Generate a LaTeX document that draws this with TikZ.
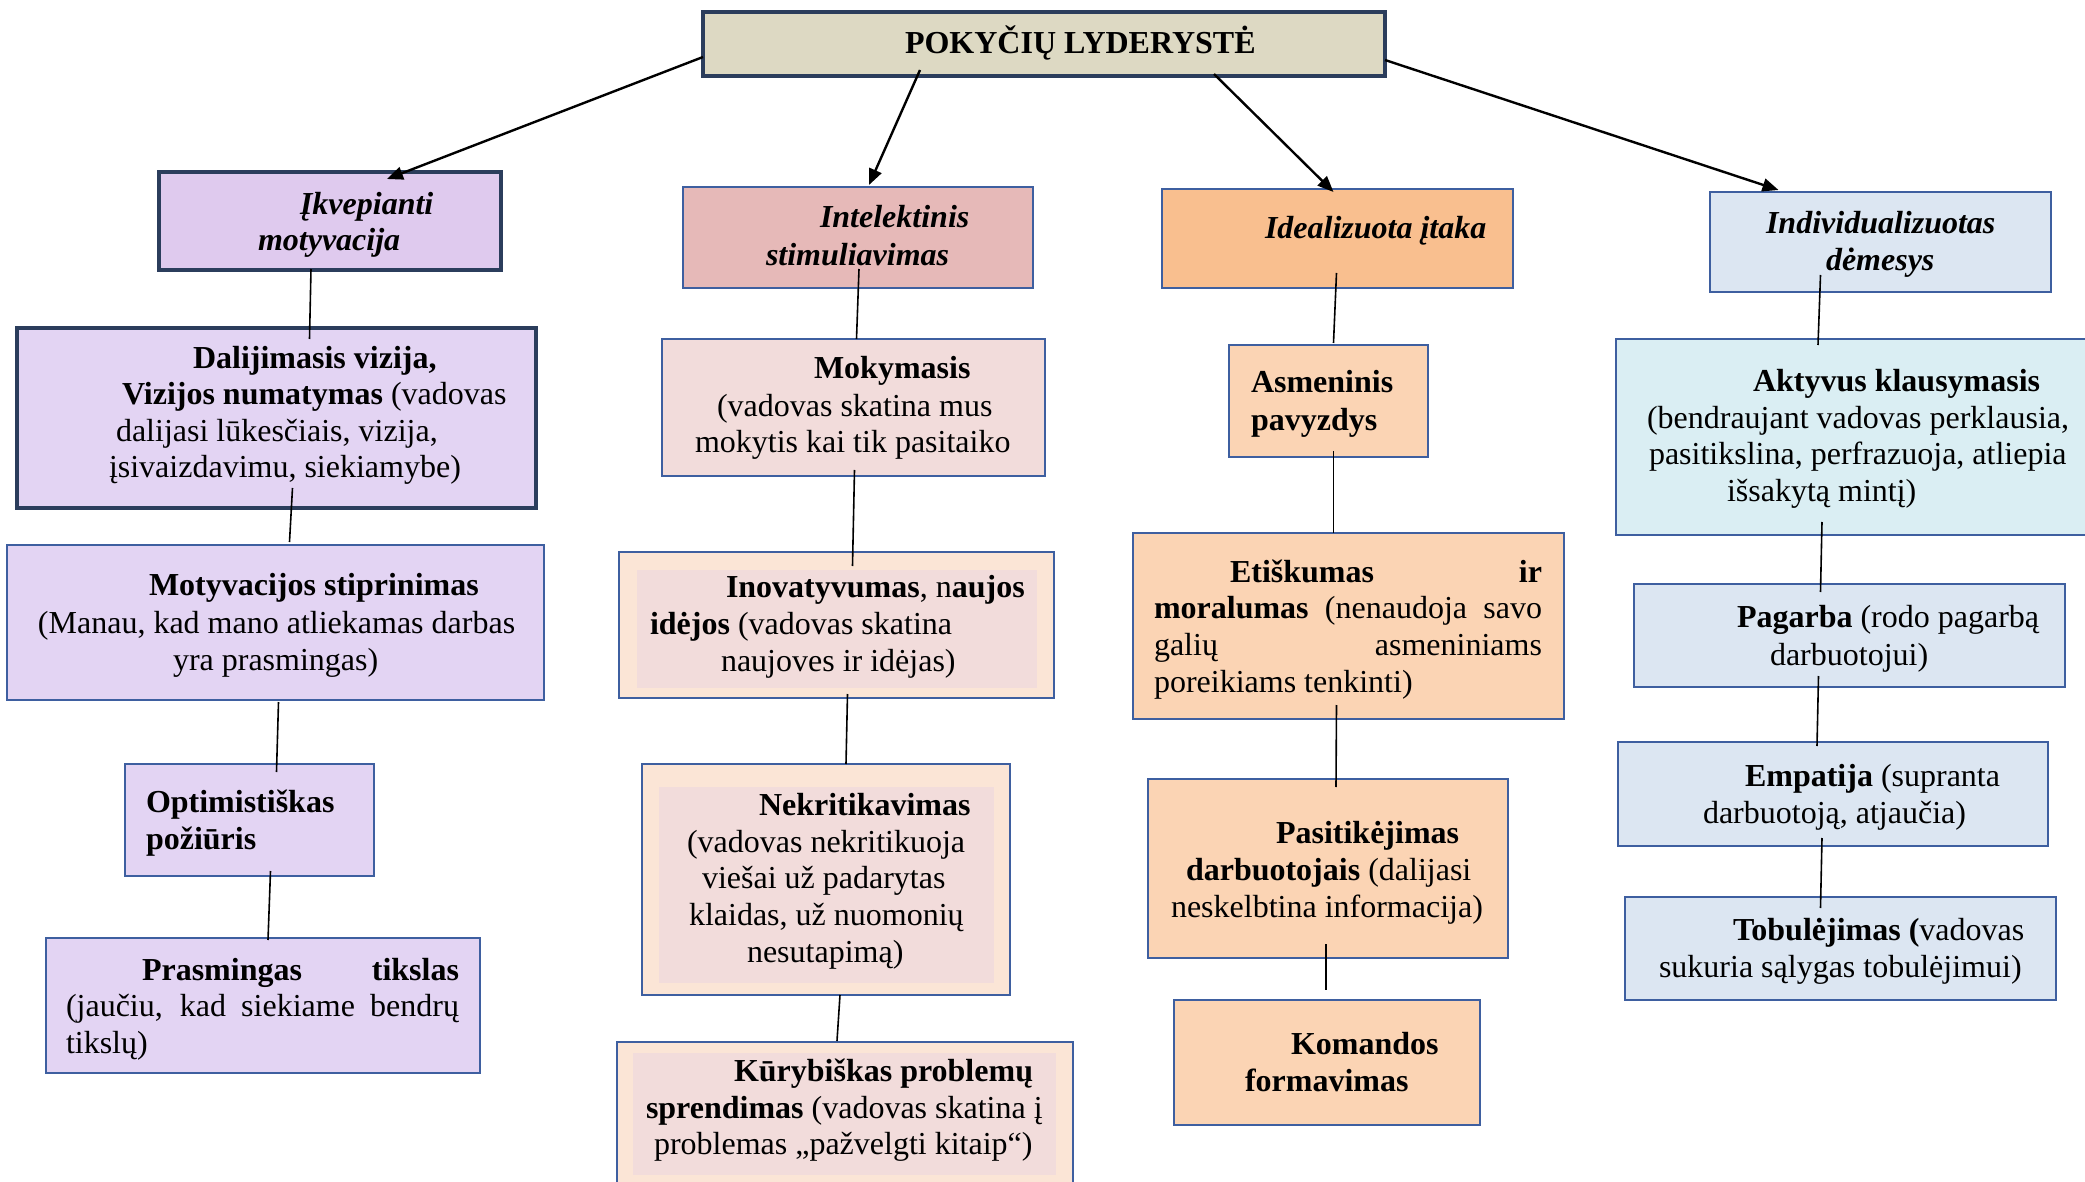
\documentclass[tikz,border=0pt]{standalone}
\usepackage{fontspec}
\setmainfont{Liberation Serif}
\usetikzlibrary{arrows.meta,calc}
\definecolor{topfill}{HTML}{DDD9C3}
\definecolor{ikvfill}{HTML}{DFCAEE}
\definecolor{lavfill}{HTML}{E3D4F3}
\definecolor{intfill}{HTML}{E6B9B8}
\definecolor{pinkfill}{HTML}{F2DCDB}
\definecolor{peachfill}{HTML}{FBE5D6}
\definecolor{idefill}{HTML}{F9BF8F}
\definecolor{orfill}{HTML}{FBD4B4}
\definecolor{bluefill}{HTML}{DCE6F2}
\definecolor{aktfill}{HTML}{DAEEF3}
\definecolor{thickcol}{HTML}{2B3D5C}
\definecolor{thincol}{HTML}{3E5FA0}
\newcommand\mybox[6]{%
  \pgfmathsetmacro\bw{(#5-#3)/2}\pgfmathsetmacro\bh{(#6-#4)/2}%
  \node[#2, minimum width=\bw pt, minimum height=\bh pt] (#1) at ({(#3+#5)/2},{(#4+#6)/2}) {};}
\newcommand\tx[4]{\node[txt] (#1) at (#2,#3) {#4};}
\begin{document}
\begin{tikzpicture}[x=0.5pt,y=-0.5pt,
  thickbox/.style={draw=thickcol, line width=2.2pt, inner sep=0pt, outer sep=0pt},
  thinbox/.style={draw=thincol, line width=1.1pt, inner sep=0pt, outer sep=0pt},
  innerbox/.style={draw=none, inner sep=0pt, outer sep=0pt},
  txt/.style={anchor=base west, inner sep=0pt, outer sep=0pt, font=\fontsize{16}{18.4}\selectfont},
  arr/.style={line width=1.2pt, -{Triangle[length=8pt,width=6.5pt]}},
  conn/.style={line width=0.8pt}]
\useasboundingbox (0,0) rectangle (2085,1182);
\fill[white] (0,0) rectangle (2085,1182);
% boxes
\mybox{top}{thickbox, fill=topfill}{703}{12}{1385}{76}
\mybox{ikv}{thickbox, fill=ikvfill}{159}{172}{501}{270}
\mybox{int}{thinbox, fill=intfill}{683}{187}{1033}{288}
\mybox{ide}{thinbox, fill=idefill}{1162}{189}{1513}{288}
\mybox{ind}{thinbox, fill=bluefill}{1710}{192}{2051}{292}
\mybox{dal}{thickbox, fill=lavfill}{17}{328}{536}{508}
\mybox{mot}{thinbox, fill=lavfill}{7}{545}{544}{700}
\mybox{opt}{thinbox, fill=lavfill}{125}{764}{374}{876}
\mybox{pras}{thinbox, fill=lavfill}{46}{938}{480}{1073}
\mybox{mok}{thinbox, fill=pinkfill}{662}{339}{1045}{476}
\mybox{ino}{thinbox, fill=peachfill}{619}{552}{1054}{698}
\mybox{inoin}{innerbox, fill=pinkfill}{637}{570}{1037}{688}
\mybox{nek}{thinbox, fill=peachfill}{642}{764}{1010}{995}
\mybox{nekin}{innerbox, fill=pinkfill}{659}{787}{994}{983}
\mybox{kur}{thinbox, fill=peachfill}{617}{1042}{1073}{1200}
\mybox{kurin}{innerbox, fill=pinkfill}{633}{1053}{1056}{1175}
\mybox{asm}{thinbox, fill=orfill}{1229}{345}{1428}{457}
\mybox{eti}{thinbox, fill=orfill}{1133}{533}{1564}{719}
\mybox{pas}{thinbox, fill=orfill}{1148}{779}{1508}{958}
\mybox{kom}{thinbox, fill=orfill}{1174}{1000}{1480}{1125}
\mybox{akt}{thinbox, fill=aktfill}{1616}{339}{2100}{535}
\mybox{pag}{thinbox, fill=bluefill}{1634}{584}{2065}{687}
\mybox{emp}{thinbox, fill=bluefill}{1618}{742}{2048}{846}
\mybox{tob}{thinbox, fill=bluefill}{1625}{897}{2056}{1000}
% arrows
\draw[arr] ($(top.west)+(0,13)$) -- ($(ikv.north)+(57,7)$);
\draw[arr] ($(top.south)+(-124,-6)$) -- ($(int.north)+(11,-2)$);
\draw[arr] ($(top.south)+(170,-2)$) -- ($(ide.north)+(-4,3)$);
\draw[arr] ($(top.east)+(0,16)$) -- ($(ind.north)+(-102,-2)$);
% connectors
\draw[conn] ($(ikv.south)+(-19,-1)$) -- ($(dal.north)+(33,11)$);
\draw[conn] ($(dal.south)+(16,-20)$) -- ($(mot.north)+(14,-3)$);
\draw[conn] ($(mot.south)+(3,2)$) -- ($(opt.north)+(27,8)$);
\draw[conn] ($(opt.south)+(21,-5)$) -- ($(pras.north)+(5,2)$);
\draw[conn] ($(int.south)+(1,-19)$) -- ($(mok.north)+(3,0)$);
\draw[conn] ($(mok.south)+(1,-6)$) -- ($(ino.north)+(16,14)$);
\draw[conn] ($(ino.south)+(11,-4)$) -- ($(nek.north)+(20,0)$);
\draw[conn] ($(nek.south)+(14,0)$) -- ($(kur.north)+(-8,-1)$);
\draw[conn] ($(ide.south)+(-1,-15)$) -- ($(asm.north)+(5,-2)$);
\draw[conn] ($(asm.south)+(5,-6)$) -- ($(eti.north)+(-15,0)$);
\draw[conn] ($(eti.south)+(-12,-14)$) -- ($(pas.north)+(8,8)$);
\draw[conn] ($(pas.south)+(-2,-14)$) -- ($(kom.north)+(-1,-10)$);
\draw[conn] ($(ind.south)+(-60,-17)$) -- ($(akt.north)+(-40,6)$);
\draw[conn] ($(akt.south)+(-36,-13)$) -- ($(pag.north)+(-29,8)$);
\draw[conn] ($(pag.south)+(-31,-11)$) -- ($(emp.north)+(-16,4)$);
\draw[conn] ($(emp.south)+(-11,-8)$) -- ($(tob.north)+(-20,11)$);
% texts
\tx{t1}{905}{54}{\textbf{POKYČIŲ LYDERYSTĖ}}
\tx{ikv1}{300}{215}{\textbf{\textit{Įkvepianti}}}
\tx{ikv2}{258}{251}{\textbf{\textit{motyvacija}}}
\tx{int1}{820}{228}{\textbf{\textit{Intelektinis}}}
\tx{int2}{766}{266}{\textbf{\textit{stimuliavimas}}}
\tx{ide1}{1265}{239}{\textbf{\textit{Idealizuota įtaka}}}
\tx{ind1}{1766}{234}{\textbf{\textit{Individualizuotas}}}
\tx{ind2}{1826}{271}{\textbf{\textit{dėmesys}}}
\tx{dal1}{193}{369}{\textbf{Dalijimasis vizija,}}
\tx{dal2}{122}{405}{\textbf{Vizijos numatymas} (vadovas}
\tx{dal3}{116}{442}{dalijasi lūkesčiais, vizija,}
\tx{dal4}{109}{478}{įsivaizdavimu, siekiamybe)}
\tx{mot1}{149}{595}{\textbf{Motyvacijos stiprinimas}}
\tx{mot2}{38}{633}{(Manau, kad mano atliekamas darbas}
\tx{mot3}{173}{670}{yra prasmingas)}
\tx{opt1}{146}{812}{\textbf{Optimistiškas}}
\tx{opt2}{146}{849}{\textbf{požiūris}}
\tx{pras1}{142}{980}{\makebox[158.5pt][s]{\bfseries Prasmingas tikslas}}
\tx{pras2}{66}{1016}{\makebox[196.5pt][s]{(jaučiu, kad siekiame bendrų}}
\tx{pras3}{66}{1053}{tikslų)}
\tx{mok1}{814}{379}{\textbf{Mokymasis}}
\tx{mok2}{717}{416}{(vadovas skatina mus}
\tx{mok3}{695}{452}{mokytis kai tik pasitaiko}
\tx{ino1}{726}{597}{\textbf{Inovatyvumas}, n\textbf{aujos}}
\tx{ino2}{650}{634}{\textbf{idėjos} (vadovas skatina}
\tx{ino3}{721}{671}{naujoves ir idėjas)}
\tx{nek1}{759}{815}{\textbf{Nekritikavimas}}
\tx{nek2}{687}{852}{(vadovas nekritikuoja}
\tx{nek3}{702}{888}{viešai už padarytas}
\tx{nek4}{689}{925}{klaidas, už nuomonių}
\tx{nek5}{747}{962}{nesutapimą)}
\tx{kur1}{734}{1081}{\textbf{Kūrybiškas problemų}}
\tx{kur2}{646}{1118}{\textbf{sprendimas} (vadovas skatina į}
\tx{kur3}{654}{1154}{problemas „pažvelgti kitaip“)}
\tx{asm1}{1251}{393}{\textbf{Asmeninis}}
\tx{asm2}{1251}{430}{\textbf{pavyzdys}}
\tx{eti1}{1230}{582}{\makebox[156pt][s]{\bfseries Etiškumas ir}}
\tx{eti2}{1154}{618}{\makebox[194pt][s]{\textbf{moralumas} (nenaudoja savo}}
\tx{eti3}{1154}{655}{\makebox[194pt][s]{galių asmeniniams}}
\tx{eti4}{1154}{692}{poreikiams tenkinti)}
\tx{pas1}{1276}{843}{\textbf{Pasitikėjimas}}
\tx{pas2}{1186}{880}{\textbf{darbuotojais} (dalijasi}
\tx{pas3}{1171}{917}{neskelbtina informacija)}
\tx{kom1}{1291}{1054}{\textbf{Komandos}}
\tx{kom2}{1245}{1091}{\textbf{formavimas}}
\tx{akt1}{1753}{392}{\textbf{Aktyvus klausymasis}}
\tx{akt2}{1647}{429}{(bendraujant vadovas perklausia,}
\tx{akt3}{1649}{465}{pasitikslina, perfrazuoja, atliepia}
\tx{akt4}{1727}{502}{išsakytą mintį)}
\tx{pag1}{1737}{627}{\textbf{Pagarba} (rodo pagarbą}
\tx{pag2}{1770}{665}{darbuotojui)}
\tx{emp1}{1745}{786}{\textbf{Empatija} (supranta}
\tx{emp2}{1703}{823}{darbuotoją, atjaučia)}
\tx{tob1}{1733}{940}{\textbf{Tobulėjimas (}vadovas}
\tx{tob2}{1659}{977}{sukuria sąlygas tobulėjimui)}
\end{tikzpicture}
\end{document}
